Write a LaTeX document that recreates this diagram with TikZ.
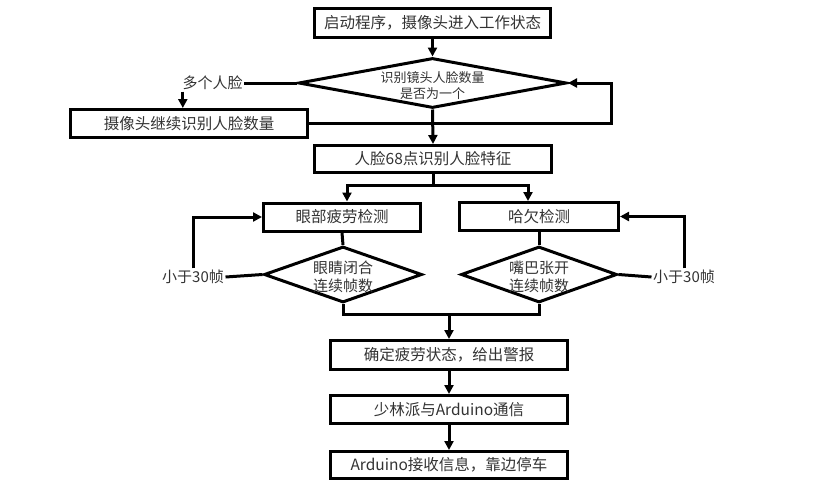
\documentclass[tikz,border=0pt]{standalone}
\usepackage{fontspec}
\newfontfamily\cjk{Noto Sans CJK SC}
\usetikzlibrary{arrows.meta,shapes.geometric}
\tikzset{
  stepbox/.style={draw, line width=3pt, rectangle, inner sep=0pt, minimum height=28pt,
    font=\cjk\fontsize{15.5}{18}\selectfont, text=black!80},
  decision/.style={draw, line width=3pt, diamond, inner sep=0pt},
  dtext/.style={font=\cjk\fontsize{15}{18}\selectfont, align=center, text=black!80, yshift=-2pt},
  dtextsmall/.style={font=\cjk\fontsize{13}{16}\selectfont, align=center, text=black!80, yshift=-3pt},
  lab/.style={inner sep=1.5pt, font=\cjk\fontsize{15}{18}\selectfont, text=black!80},
  line/.style={line width=3pt},
  arrow/.style={line width=3pt, -{Triangle[length=9pt,width=9pt]}},
}
\begin{document}
\begin{tikzpicture}[x=1pt,y=-1pt]
\useasboundingbox (0,0) rectangle (832,498);
% boxes
\node[stepbox, minimum width=236pt, minimum height=29pt] (b1) at (432.5,23) {启动程序，摄像头进入工作状态};
\node[decision, minimum width=268pt, minimum height=50pt,
  label={[dtextsmall]center:识别镜头人脸数量\\是否为一个}] (d1) at (432.5,83) {};
\node[stepbox, minimum width=237pt] (b2) at (189,123.5) {摄像头继续识别人脸数量};
\node[stepbox, minimum width=237pt, minimum height=27pt] (b3) at (433,159) {人脸68点识别人脸特征};
\node[stepbox, minimum width=157pt] (b4) at (342,217) {眼部疲劳检测};
\node[stepbox, minimum width=159pt] (b5) at (539,216.5) {哈欠检测};
\node[decision, minimum width=158pt, minimum height=56pt,
  label={[dtext]center:眼睛闭合\\连续帧数}] (d2) at (343,274.5) {};
\node[decision, minimum width=156pt, minimum height=56pt,
  label={[dtext]center:嘴巴张开\\连续帧数}] (d3) at (539,274.5) {};
\node[stepbox, minimum width=237pt, minimum height=29pt] (b6) at (449,355) {确定疲劳状态，给出警报};
\node[stepbox, minimum width=237pt] (b7) at (449,409.5) {少林派与Arduino通信};
\node[stepbox, minimum width=237pt, minimum height=27pt] (b8) at (449,465) {Arduino接收信息，靠边停车};
% labels
\node[lab] (l1) at (212.5,83) {多个人脸};
\node[lab] (l2) at (193,277) {小于30帧};
\node[lab] (l3) at (684,277) {小于30帧};
% helper coordinates
\coordinate (rr) at (611,0);
\coordinate (split) at (433,185);
\coordinate (merge) at (449,314);
% connectors
\draw[arrow] (b1) -- (d1.north);
\draw[line] (d1.west) -- (l1.east);
\draw[arrow] ([xshift=2pt]l1.south west) -- ([xshift=2pt]l1.south west |- b2.north);
\draw[arrow] (b2.east) -- (b2.east -| rr) -- (d1.east -| rr) -- (d1.east);
\draw[arrow] (d1.south) -- (b3.north);
\draw[line] (b3.south) -- (split);
\draw[arrow] (split) -| ([xshift=5pt]b4.north);
\draw[arrow] (split) -| ([xshift=-11pt]b5.north);
\draw[line] (b4.south) -- (d2.north);
\draw[line] (b5.south) -- (d3.north);
\draw[line] (d2.west) -- (l2.east);
\draw[arrow] (l2.north) |- (b4.west);
\draw[line] (d3.east) -- (l3.west);
\draw[arrow] (l3.north) |- (b5.east);
\draw[line] (d2.south) |- (merge) -| (d3.south);
\draw[arrow] (merge) -- (b6.north);
\draw[arrow] (b6) -- (b7);
\draw[arrow] (b7) -- (b8);
\end{tikzpicture}
\end{document}
